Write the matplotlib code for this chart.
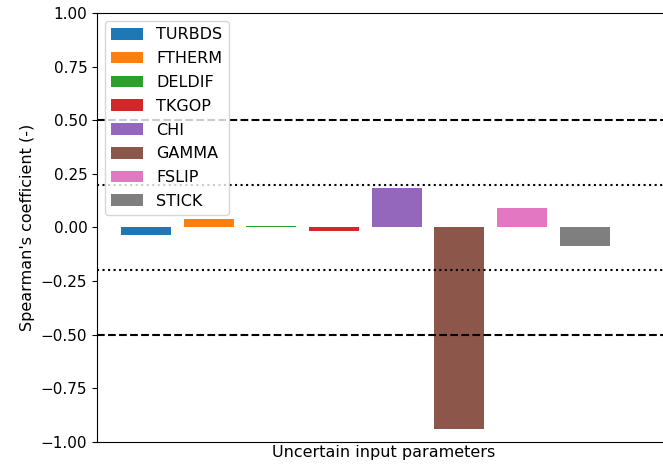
import matplotlib
matplotlib.use("Agg")
import matplotlib.pyplot as plt
import numpy as np

params = ["TURBDS", "FTHERM", "DELDIF", "TKGOP", "CHI", "GAMMA", "FSLIP", "STICK"]
spearman = [-0.035, 0.039, 0.007, -0.016, 0.186, -0.938, 0.093, -0.086]
colors = ["#1f77b4", "#ff7f0e", "#2ca02c", "#d62728", "#9467bd", "#8c564b", "#e377c2", "#7f7f7f"]
yticks = [-1.00, -0.75, -0.50, -0.25, 0.00, 0.25, 0.50, 0.75, 1.00]

fig = plt.figure(figsize=(6.63, 4.66), dpi=100)
ax = fig.add_axes([97 / 663, 1 - 442 / 466, (671 - 97) / 663, (442 - 13) / 466])

x = np.arange(len(params))
for xi, v, c, p in zip(x, spearman, colors, params):
    ax.bar(xi, v, width=0.8, color=c, label=p)

ax.axhline(0.5, color="black", linestyle="--", linewidth=1.5)
ax.axhline(-0.5, color="black", linestyle="--", linewidth=1.5)
ax.axhline(0.2, color="black", linestyle=":", linewidth=1.5)
ax.axhline(-0.2, color="black", linestyle=":", linewidth=1.5)

ax.set_ylim(-1, 1)
ax.set_xlim(-0.78, 8.375)
ax.set_yticks(yticks)
ax.set_yticklabels([f"{t:.2f}".replace("-", "\u2212") for t in yticks], fontsize=11)
ax.set_xticks([])
ax.set_ylabel("Spearman's coefficient (-)", fontsize=11.5)
ax.set_xlabel("Uncertain input parameters", fontsize=11.5, labelpad=2)

leg = ax.legend(loc="upper left", fontsize=11.5, handlelength=2.0, labelspacing=0.55,
                handleheight=0.75, borderaxespad=0.5)
fig.savefig("out.png", dpi=100)
